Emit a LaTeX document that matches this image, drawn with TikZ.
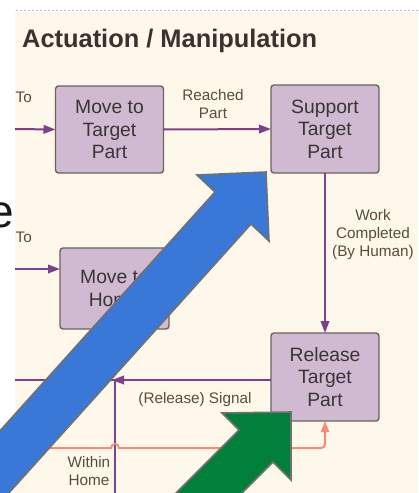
\documentclass[tikz,border=0pt]{standalone}
\usepackage{fontspec}
\setmainfont{Liberation Sans}
\usetikzlibrary{arrows.meta}

\definecolor{panel}{RGB}{253,248,234}
\definecolor{boxfill}{RGB}{208,186,210}
\definecolor{boxline}{RGB}{110,96,96}
\definecolor{flowc}{RGB}{126,64,140}
\definecolor{signalc}{RGB}{242,140,118}
\definecolor{labelc}{RGB}{92,76,60}
\definecolor{textc}{RGB}{58,52,52}
\definecolor{titlec}{RGB}{60,48,48}
\definecolor{bluearrow}{RGB}{58,120,216}
\definecolor{greenarrow}{RGB}{2,128,58}
\definecolor{arrowedge}{RGB}{112,112,112}

\begin{document}
\begin{tikzpicture}[x=1pt,y=-1pt,
  stepbox/.style={draw=boxline, fill=boxfill, line width=1.4pt, rounded corners=3pt,
    minimum width=108pt, align=center, text=textc, inner sep=0pt, outer sep=0pt,
    font=\fontsize{19.3}{22.5}\selectfont},
  lbl/.style={text=labelc, align=center, inner sep=0pt,
    font=\fontsize{15.3}{18}\selectfont},
  flow/.style={draw=flowc, line width=2pt, -{Triangle[length=12pt,width=8.5pt]}},
  flowline/.style={draw=flowc, line width=2pt},
  signal/.style={draw=signalc, line width=2pt, -{Triangle[length=11pt,width=8pt]}},
  bigarrow/.style={draw=arrowedge, line width=1.6pt, line join=miter}]

% page and panel
\useasboundingbox (0,0) rectangle (418,493);
\clip (0,0) rectangle (418,493);
\fill[white] (0,0) rectangle (418,493);
\fill[panel] (15,12) rectangle (418,493);
\draw[gray!55, line width=0.9pt, dash pattern=on 1.5pt off 2.5pt] (16,10.5) -- (418,10.5);

% letter of the neighbouring slide text
\node[anchor=base east, inner sep=0pt, text=black!90, font=\fontsize{46}{46}\selectfont]
  (sidee) at (14,227.5) {e};

% title
\node[anchor=base west, inner sep=0pt, text=titlec, font=\bfseries\fontsize{25.4}{30}\selectfont]
  (title) at (22,47) {Actuation / Manipulation};

% states
\node[stepbox, minimum height=87pt] (A) at (109.5,129.5) {Move to\\Target\\Part};
\node[stepbox, minimum height=88pt] (B) at (325,129) {Support\\Target\\Part};
\node[stepbox, minimum height=81pt, minimum width=109pt] (C) at (114.5,288.5) {Move to\\Home};
\node[stepbox, minimum height=88pt] (D) at (325,377) {Release\\Target\\Part};

% free ends of connectors
\coordinate (inA) at (15,129);
\coordinate (inC) at (15,269);
\coordinate (j) at (115,380);
\coordinate (jt) at (112,380);
\coordinate (jl) at (15,380);
\coordinate (jb) at (115,500);
\coordinate (s0) at (15,448);
\coordinate (h0) at (111,448);

% transitions
\draw[flow] (inA) -- (A.west);
\draw[flow] (A.east) -- (B.west);
\draw[flow] (B.south) -- (D.north);
\draw[flow] (inC) -- (inC -| C.west);
\draw[flow] (j -| D.west) -- (jt);
\draw[flowline] (j) -- (jl);
\draw[flowline] (j) -- (jb);
\draw[signal] (s0) -- (h0) arc[start angle=180, end angle=360, radius=4]
  [rounded corners=4pt] -- (s0 -| D.south) -- (D.south);

% labels
\node[lbl, anchor=west] (toA) at (15.5,97) {To};
\node[lbl, anchor=west] (toC) at (15.5,237) {To};
\node[lbl] (reached) at (213,104) {Reached\\Part};
\node[lbl] (work) at (373,235) {Work\\Completed\\(By Human)};
\node[lbl] (release) at (195,400) {(Release) Signal};
\node[lbl] (within) at (89,471.5) {Within\\Home};

% overlaid block arrows (shafts run on past the page edge)
\fill[bluearrow] (266,172) -- (197,175) -- (215,192) -- (-52.6,489.2)
  -- (-16.6,521.2) -- (251,224) -- (269,241) -- cycle;
\draw[bigarrow] (-52.6,489.2) -- (215,192) -- (197,175) -- (266,172)
  -- (269,241) -- (251,224) -- (-16.6,521.2);
\fill[greenarrow] (291,412) -- (222,413) -- (239,430) -- (139,530)
  -- (173,562) -- (273,462) -- (291,480) -- cycle;
\draw[bigarrow] (139,530) -- (239,430) -- (222,413) -- (291,412)
  -- (291,480) -- (273,462) -- (173,562);
\end{tikzpicture}
\end{document}
